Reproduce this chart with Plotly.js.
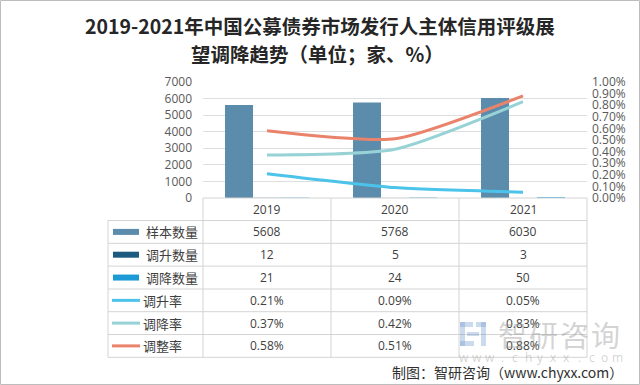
<!DOCTYPE html>
<html>
<head>
<meta charset="utf-8">
<script src="https://cdn.plot.ly/plotly-3.0.1.min.js"></script>
<style>html,body{margin:0;padding:0;background:#fff;}#chart{width:640px;height:385px;}</style>
</head>
<body>
<div id="chart"></div>
<script>
// ---- data ----
const years = ['2019', '2020', '2021'];
const sampleCount = [5608, 5768, 6030];
const upCount = [12, 5, 3];
const downCount = [21, 24, 50];
const upRate = [0.21, 0.09, 0.05];     // %
const downRate = [0.37, 0.42, 0.83];   // %
const adjRate = [0.58, 0.51, 0.88];    // %
const seriesNames = ['样本数量', '调升数量', '调降数量', '调升率', '调降率', '调整率'];
const titleLines = ['2019-2021年中国公募债券市场发行人主体信用评级展', '望调降趋势（单位；家、%）'];
const footerText = '制图：智研咨询（www.chyxx.com）';
const watermarkText = '智研咨询';
const watermarkUrl = 'www.chyxx.com';

// ---- styles ----
const colors = ['#5b8cac', '#1d5a80', '#1b9ad5', '#4cc3e9', '#97d3d6', '#e9836b'];
const FONT = '"Noto Sans CJK SC", "Noto Sans", sans-serif';
const NUMFONT = '"Open Sans", "Noto Sans", sans-serif';
const W = 640, H = 385;
const L = 203, R = 587, T = 82, B = 198;
const px = x => (x - L) / (R - L);
const py = y => (B - y) / (B - T);

const barVals = [sampleCount, upCount, downCount];
const lineVals = [upRate, downRate, adjRate];

const traces = [];
barVals.forEach((v, i) => traces.push({
  type: 'bar', x: years, y: v, name: seriesNames[i],
  marker: {color: colors[i]}, yaxis: 'y', hoverinfo: 'skip'
}));
lineVals.forEach((v, i) => traces.push({
  type: 'scatter', mode: 'lines', x: years, y: v, name: seriesNames[3 + i],
  line: {color: colors[3 + i], width: 3, shape: 'spline', smoothing: 0.6},
  yaxis: 'y2', hoverinfo: 'skip'
}));

// ---- table ----
const gridColor = '#d4d4d4';
const shapes = [];
const annotations = [];
const hLine = (y, x0, x1) => shapes.push({type: 'line', xref: 'paper', yref: 'paper',
  x0: px(x0), x1: px(x1), y0: py(y), y1: py(y), line: {color: gridColor, width: 1}});
const vLine = (x, y0, y1) => shapes.push({type: 'line', xref: 'paper', yref: 'paper',
  x0: px(x), x1: px(x), y0: py(y0), y1: py(y1), line: {color: gridColor, width: 1}});

const rowEdges = [198, 220.5, 243.3, 266.1, 289, 311.7, 334.5, 357.3];
hLine(rowEdges[0], 203, 587);
for (let k = 1; k < rowEdges.length; k++) hLine(rowEdges[k], 108, 587);
[203, 331, 459, 587].forEach(x => vLine(x, 198, 357.3));
vLine(108, 220.5, 357.3);

const rowCenter = k => (rowEdges[k] + rowEdges[k + 1]) / 2;
const textColor = '#404040';
// header (x given as category index on the category axis)
years.forEach((yr, j) => annotations.push({xref: 'x', yref: 'paper', x: j, y: py(rowCenter(0)),
  text: yr, showarrow: false, xanchor: 'center', yanchor: 'middle',
  font: {family: NUMFONT, size: 12, color: textColor}}));
// rows
const allVals = [sampleCount, upCount, downCount, upRate, downRate, adjRate];
allVals.forEach((vals, i) => {
  const yc = rowCenter(i + 1);
  vals.forEach((v, j) => annotations.push({xref: 'x', yref: 'paper', x: j, y: py(yc),
    text: i >= 3 ? v.toFixed(2) + '%' : String(v), showarrow: false,
    xanchor: 'center', yanchor: 'middle', font: {family: NUMFONT, size: 12, color: textColor}}));
  // legend swatch
  if (i < 3) {
    shapes.push({type: 'rect', xref: 'paper', yref: 'paper', x0: px(113), x1: px(139),
      y0: py(yc - 3), y1: py(yc + 3), fillcolor: colors[i], line: {width: 0}});
  } else {
    shapes.push({type: 'line', xref: 'paper', yref: 'paper', x0: px(112), x1: px(140),
      y0: py(yc), y1: py(yc), line: {color: colors[i], width: 3}});
  }
  annotations.push({xref: 'paper', yref: 'paper', x: px(i < 3 ? 144 : 141), y: py(yc),
    text: seriesNames[i], showarrow: false, xanchor: 'left', yanchor: 'middle',
    font: {family: FONT, size: 13, color: textColor}});
});

// ---- title ----
annotations.push({xref: 'paper', yref: 'paper', x: px(320), y: py(25.5), text: '<b>' + titleLines[0] + '</b>',
  showarrow: false, xanchor: 'center', yanchor: 'middle', font: {family: FONT, size: 19.5, color: '#262626'}});
annotations.push({xref: 'paper', yref: 'paper', x: px(317), y: py(53), text: '<b>' + titleLines[1] + '</b>',
  showarrow: false, xanchor: 'center', yanchor: 'middle', font: {family: FONT, size: 19.5, color: '#262626'}});

// ---- watermark ----
const wmColor = 'rgba(150,150,150,0.42)';
watermarkText.split('').forEach((c, k) => annotations.push({xref: 'paper', yref: 'paper',
  x: px(512 + k * 31), y: py(334), text: c, showarrow: false, xanchor: 'center', yanchor: 'middle',
  font: {family: FONT, size: 29, color: wmColor}}));
watermarkUrl.split('').forEach((c, k) => annotations.push({xref: 'paper', yref: 'paper',
  x: px(464 + k * 12.8), y: py(357), text: c, showarrow: false, xanchor: 'center', yanchor: 'middle',
  font: {family: NUMFONT, size: 12, color: wmColor}}));
const logoC = 'rgba(110,150,205,0.35)';
[[460, 322, 473, 327], [460, 322, 465, 346], [476, 322, 486, 327], [481, 322, 486, 346], [467, 332, 479, 336], [460, 341, 474, 346]]
  .forEach(r => shapes.push({type: 'rect', xref: 'paper', yref: 'paper', x0: px(r[0]), x1: px(r[2]),
    y0: py(r[1]), y1: py(r[3]), fillcolor: logoC, line: {width: 0}}));

// ---- footer ----
annotations.push({xref: 'paper', yref: 'paper', x: px(390), y: py(372), text: footerText,
  showarrow: false, xanchor: 'left', yanchor: 'middle', font: {family: FONT, size: 14, color: '#303030'}});

// ---- frame ----
shapes.push({type: 'rect', xref: 'paper', yref: 'paper', x0: px(0.5), x1: px(639.5), y0: py(0.5), y1: py(384.5),
  line: {color: '#bdbdbd', width: 1}, fillcolor: 'rgba(0,0,0,0)'});

const layout = {
  width: W, height: H,
  margin: {l: L, r: W - R, t: T, b: H - B, pad: 0},
  paper_bgcolor: '#fff', plot_bgcolor: '#fff',
  showlegend: false,
  barmode: 'group', bargap: 0.344, bargroupgap: 0,
  xaxis: {type: 'category', range: [-0.5, 2.5], autorange: false, showticklabels: false,
    showgrid: false, zeroline: false, showline: false, ticks: ''},
  yaxis: {range: [0, 7000], dtick: 1000, showgrid: true, gridcolor: '#dedede', gridwidth: 1,
    zeroline: false, showline: false, ticks: '', ticklabelstandoff: 10,
    tickfont: {family: NUMFONT, size: 12, color: '#595959'}},
  yaxis2: {overlaying: 'y', side: 'right', range: [0, 1], dtick: 0.1, tickformat: '.2f', ticksuffix: '%',
    showgrid: false, zeroline: false, showline: false, ticks: '', ticklabelstandoff: 4,
    tickfont: {family: NUMFONT, size: 12, color: '#595959'}},
  shapes: shapes,
  annotations: annotations
};

Plotly.newPlot('chart', traces, layout, {staticPlot: true, displayModeBar: false});
</script>
</body>
</html>
